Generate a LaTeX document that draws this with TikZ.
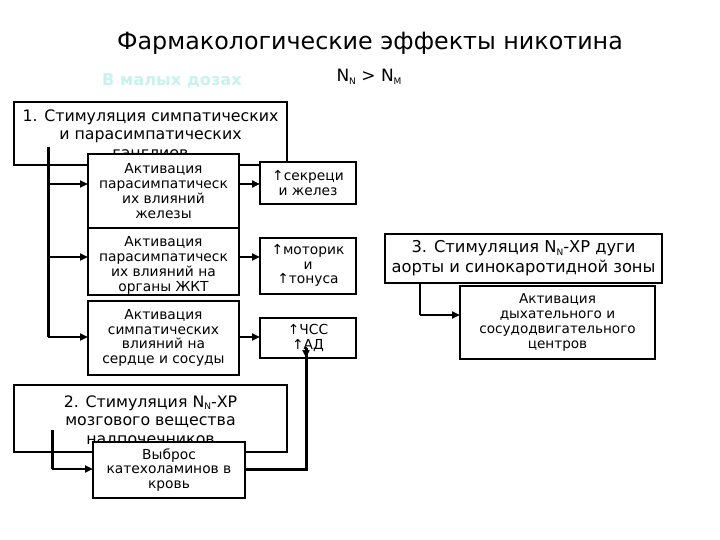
\documentclass[tikz,border=0pt]{standalone}
\usepackage{fontspec}
\setmainfont{DejaVu Sans}
\usetikzlibrary{arrows.meta}
\definecolor{lightaqua}{HTML}{C8F2EC}
\newcommand{\subN}[1]{\raisebox{-0.3ex}{\fontsize{9}{10}\selectfont #1}}
\begin{document}
\begin{tikzpicture}[x=1pt,y=-1pt,
  bx/.style={draw=black,line width=2pt,fill=white,inner sep=0pt,outer sep=0pt},
  big/.style={font=\fontsize{15.8}{18.5}\selectfont,align=center},
  small/.style={font=\fontsize{13.8}{14.8}\selectfont,align=center},
  conn/.style={line width=3pt},
  arr/.style={line width=2pt,-{Triangle[length=8pt,width=7pt]}}]
\useasboundingbox (0,0) rectangle (720,540);
% titles
\node (title) at (370,43) {\fontsize{23.8}{28}\selectfont Фармакологические эффекты никотина};
\node (dose) at (172,81) {\fontsize{16.2}{19}\selectfont\bfseries\color{lightaqua}В малых дозах};
\node (nn) at (369,77) {\fontsize{17}{20}\selectfont N\subN{N} > N\subN{M}};
% box 1
\draw[bx] (14,102) rectangle (287,165);
\node[big] (b1) at (150.5,134) {1. Стимуляция симпатических\\и парасимпатических\\ганглиев};
% vertical line from box1
\coordinate (v1top) at (48,147);
\coordinate (v1a) at (48,184);
\coordinate (v1b) at (48,257);
\coordinate (v1c) at (48,337);
\draw[conn] (v1top) -- (v1c);
% A boxes
\node[bx,minimum width=151pt,minimum height=74pt] (a1) at (163.5,191) {};
\node[small] at (a1) {Активация\\парасимпатическ\\их влияний\\железы};
\node[bx,minimum width=151pt,minimum height=67pt] (a2) at (163.5,261.5) {};
\node[small] at ([yshift=-4pt]a2.center) {Активация\\парасимпатическ\\их влияний на\\органы ЖКТ};
\node[bx,minimum width=151pt,minimum height=74pt] (a3) at (163.5,338) {};
\node[small] at (a3) {Активация\\симпатических\\влияний на\\сердце и сосуды};
\draw[arr] (v1a) -- (v1a -| a1.west);
\draw[arr] (v1b) -- (v1b -| a2.west);
\draw[arr] (v1c) -- (v1c -| a3.west);
% effect boxes
\node[bx,minimum width=96pt,minimum height=42pt] (e1) at (308,183) {};
\node[small] at (e1) {↑секреци\\и желез};
\node[bx,minimum width=96pt,minimum height=56pt] (e2) at (308,265.5) {};
\node[small] at (e2) {↑моторик\\и\\↑тонуса};
\node[bx,minimum width=96pt,minimum height=40pt] (e3) at (308,338) {};
\node[small] at (e3) {↑ЧСС\\↑АД};
\draw[arr] (a1.east |- v1a) -- (e1.west |- v1a);
\draw[arr] (a2.east |- v1b) -- (e2.west |- v1b);
\draw[arr] (a3.east |- v1c) -- (e3.west |- v1c);
% box 2
\draw[bx] (14,385) rectangle (287,452);
\node[big] (b2) at (150.5,421) {2. Стимуляция N\subN{N}-ХР\\мозгового вещества\\надпочечников};
\coordinate (v2top) at (52,430);
\coordinate (v2b) at (52,469);
\node[bx,minimum width=152pt,minimum height=56pt] (rel) at (169,470) {};
\node[small] at (rel) {Выброс\\катехоламинов в\\кровь};
\draw[conn] (v2top) -- (v2b);
\draw[arr] (v2b) -- (v2b -| rel.west);
\coordinate (c3) at (306,469);
\draw[conn] (rel.east |- c3) -- (c3) -- ([yshift=10pt]e3.south -| c3);
\draw[arr] ([yshift=11pt]e3.south -| c3) -- (e3.south -| c3);
% box 3
\node[bx,minimum width=277pt,minimum height=49pt] (b3) at (523.5,258.5) {};
\node[big,font=\fontsize{16.3}{20}\selectfont] at (b3) {3. Стимуляция N\subN{N}-ХР дуги\\аорты и синокаротидной зоны};
\node[bx,minimum width=195pt,minimum height=73pt] (resp) at (557.5,322.5) {};
\node[small,font=\fontsize{13.6}{15.2}\selectfont] at (resp) {Активация\\дыхательного и\\сосудодвигательного\\центров};
\coordinate (v3) at (420,315);
\draw[line width=2pt] (b3.south -| v3) -- (v3);
\draw[arr] (v3) -- (v3 -| resp.west);
\end{tikzpicture}
\end{document}
